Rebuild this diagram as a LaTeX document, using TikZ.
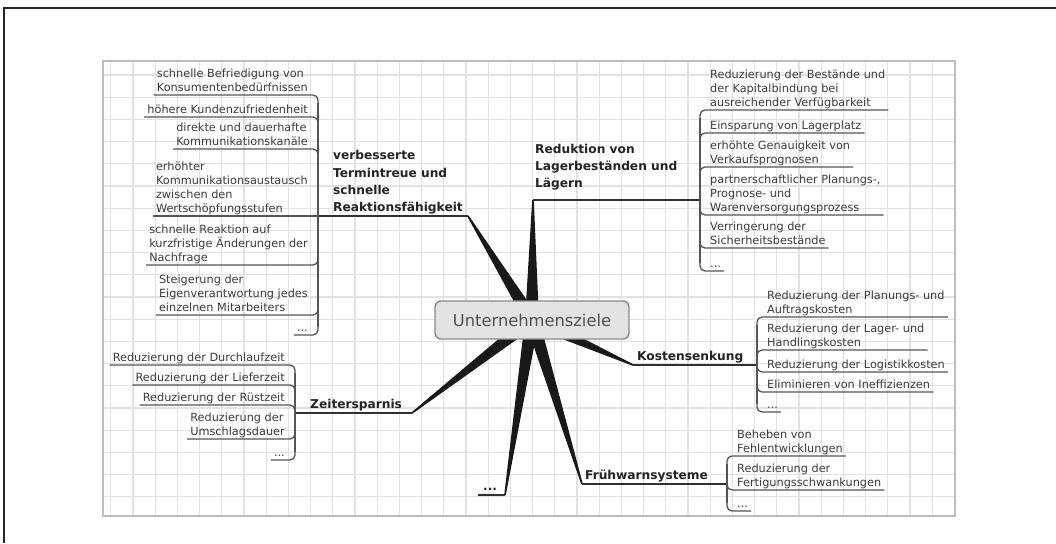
\documentclass[tikz,border=0pt]{standalone}
\usepackage{fontspec}
\setmainfont{DejaVu Sans}
\usetikzlibrary{calc}
\definecolor{gridc}{HTML}{E2E2E2}
\definecolor{panelb}{HTML}{BDBDBD}
\definecolor{subtxt}{HTML}{3C3C3C}
\definecolor{subln}{HTML}{555555}
\definecolor{maintxt}{HTML}{242424}
\definecolor{mainln}{HTML}{303030}
\definecolor{ctrfill}{HTML}{E3E3E3}
\definecolor{ctrdraw}{HTML}{8A8A8A}
\definecolor{ctrtxt}{HTML}{505050}
\tikzset{
 subitem/.style={font=\fontsize{11.3}{14}\selectfont, text=subtxt, align=left, inner xsep=3pt, inner ysep=1pt, text depth=2.5pt},
 subline/.style={draw=subln, line width=1.3pt, rounded corners=5pt},
 bracketline/.style={draw=subln, line width=1.3pt},
 mainlabel/.style={font=\fontsize{12.2}{17.4}\selectfont\bfseries, text=maintxt, align=left, inner xsep=2pt, inner ysep=1pt, text depth=3pt},
 mainline/.style={draw=mainln, line width=1.6pt},
 wedgefill/.style={fill=black!90},
 centre/.style={draw=ctrdraw, fill=ctrfill, line width=1.4pt, rounded corners=6pt, minimum width=194pt, minimum height=38pt, font=\fontsize{16.3}{18}\selectfont, text=ctrtxt, inner sep=0pt},
 gridline/.style={draw=gridc, line width=1.1pt},
 panel/.style={draw=panelb, line width=2pt, fill=white},
 frameline/.style={draw=black!85, line width=2.4pt},
}
% right-hand item: name, bracket x, underline y, corner y, text
\newcommand{\RItem}[5]{\node[subitem, anchor=south west] (#1) at (#2+7,#3) {#5};
 \draw[subline] (#2,#4) -- (#2,#3) -- (#1.south east);}
% left-hand item
\newcommand{\LItem}[5]{\node[subitem, anchor=south east] (#1) at (#2-7,#3) {#5};
 \draw[subline] (#2,#4) -- (#2,#3) -- (#1.south west);}
\newcommand{\Spoke}[2]{\fill[wedgefill] ($(#1)!7pt!90:(#2)$) -- ($(#2)!0.8pt!-90:(#1)$) -- ($(#2)!0.8pt!90:(#1)$) -- ($(#1)!7pt!-90:(#2)$) -- cycle;}
\begin{document}
\begin{tikzpicture}[x=1pt,y=-1pt]
\useasboundingbox (0,0) rectangle (1056,543);
\fill[white] (0,0) rectangle (1056,543);
\draw[frameline] (4,543) -- (4,8.3) -- (1056,8.3);
% panel with grid
\draw[panel] (103,61) rectangle (955,516);
\foreach \i in {0,...,37} { \draw[gridline] ({110.8+22.2*\i},62) -- ({110.8+22.2*\i},515); }
\foreach \j in {0,...,19} { \draw[gridline] (104,{75+22.2*\j}) -- (954,{75+22.2*\j}); }
\draw[draw=panelb, line width=2pt] (103,61) rectangle (955,516);

% centre and spoke end points
\coordinate (C) at (532,320);
\coordinate (vE) at (468,216);
\coordinate (vJ) at (318,216);
\coordinate (rE) at (533,200);
\coordinate (rJ) at (700,200);
\coordinate (kE) at (633,365);
\coordinate (kJ) at (757,365);
\coordinate (fE) at (582,484);
\coordinate (fJ) at (727,484);
\coordinate (dS) at (478,495);
\coordinate (dE) at (505,495);
\coordinate (zE) at (412,413);
\coordinate (zJ) at (295,413);

\Spoke{C}{vE}
\Spoke{C}{rE}
\Spoke{C}{kE}
\Spoke{C}{fE}
\Spoke{C}{dE}
\Spoke{C}{zE}

\node[centre] (Z) at (C) {Unternehmensziele};

% main branches
\draw[mainline] (vJ) -- (vE);
\draw[mainline] (rE) -- (rJ);
\draw[mainline] (kE) -- (kJ);
\draw[mainline] (fE) -- (fJ);
\draw[mainline] (dS) -- (dE);
\draw[mainline] (zJ) -- (zE);

\node[mainlabel, anchor=south west] (Lv) at (331,216) {verbesserte\\Termintreue und\\schnelle\\Reaktionsfähigkeit};
\node[mainlabel, anchor=south west] (Lr) at (533,192) {Reduktion von\\Lagerbeständen und\\Lägern};
\node[mainlabel, anchor=south west] (Lk) at (635,365) {Kostensenkung};
\node[mainlabel, anchor=south west] (Lf) at (583,484) {Frühwarnsysteme};
\node[mainlabel, anchor=south west] (Ld) at (481,495) {...};
\node[mainlabel, anchor=south west] (Lz) at (308,413) {Zeitersparnis};

% bracket: verbesserte Termintreue
\coordinate (vT) at (318,103);
\coordinate (vB) at (318,327);
\draw[bracketline] (vT) -- (vB);
\LItem{v1}{318}{95}{103}{schnelle Befriedigung von\\Konsumentenbedürfnissen}
\LItem{v2}{318}{117}{125}{höhere Kundenzufriedenheit}
\LItem{v3}{318}{149}{157}{direkte und dauerhafte\\Kommunikationskanäle}
\node[subitem, anchor=south east] (v4) at (311,216) {erhöhter\\Kommunikationsaustausch\\zwischen den\\Wertschöpfungsstufen};
\draw[subline] (v4.south west) -- (vJ);
\LItem{v5}{318}{265}{257}{schnelle Reaktion auf\\kurzfristige Änderungen der\\Nachfrage}
\LItem{v6}{318}{315}{307}{Steigerung der\\Eigenverantwortung jedes\\einzelnen Mitarbeiters}
\LItem{v7}{318}{335}{327}{...}

% bracket: Reduktion
\coordinate (rT) at (700,118);
\coordinate (rB) at (700,263);
\draw[bracketline] (rT) -- (rB);
\RItem{r1}{700}{110}{118}{Reduzierung der Bestände und\\der Kapitalbindung bei\\ausreichender Verfügbarkeit}
\RItem{r2}{700}{133}{141}{Einsparung von Lagerplatz}
\RItem{r3}{700}{167}{175}{erhöhte Genauigkeit von\\Verkaufsprognosen}
\RItem{r4}{700}{215}{207}{partnerschaftlicher Planungs-,\\Prognose- und\\Warenversorgungsprozess}
\RItem{r5}{700}{248}{240}{Verringerung der\\Sicherheitsbestände}
\RItem{r6}{700}{271}{263}{...}

% bracket: Kostensenkung
\coordinate (kT) at (757,325);
\coordinate (kB) at (757,404);
\draw[bracketline] (kT) -- (kB);
\RItem{k1}{757}{317}{325}{Reduzierung der Planungs- und\\Auftragskosten}
\RItem{k2}{757}{350}{358}{Reduzierung der Lager- und\\Handlingskosten}
\RItem{k3}{757}{372}{364}{Reduzierung der Logistikkosten}
\RItem{k4}{757}{392}{384}{Eliminieren von Ineffizienzen}
\RItem{k5}{757}{412}{404}{...}

% bracket: Frühwarnsysteme
\coordinate (fT) at (727,464);
\coordinate (fB) at (727,503);
\draw[bracketline] (fT) -- (fB);
\RItem{f1}{727}{456}{464}{Beheben von\\Fehlentwicklungen}
\RItem{f2}{727}{490}{482}{Reduzierung der\\Fertigungsschwankungen}
\RItem{f3}{727}{511}{503}{...}

% bracket: Zeitersparnis
\coordinate (zT) at (295,373);
\coordinate (zB) at (295,452);
\draw[bracketline] (zT) -- (zB);
\LItem{z1}{295}{365}{373}{Reduzierung der Durchlaufzeit}
\LItem{z2}{295}{385}{393}{Reduzierung der Lieferzeit}
\LItem{z3}{295}{405}{413}{Reduzierung der Rüstzeit}
\LItem{z4}{295}{439}{431}{Reduzierung der\\Umschlagsdauer}
\LItem{z5}{295}{460}{452}{...}
\end{tikzpicture}
\end{document}
